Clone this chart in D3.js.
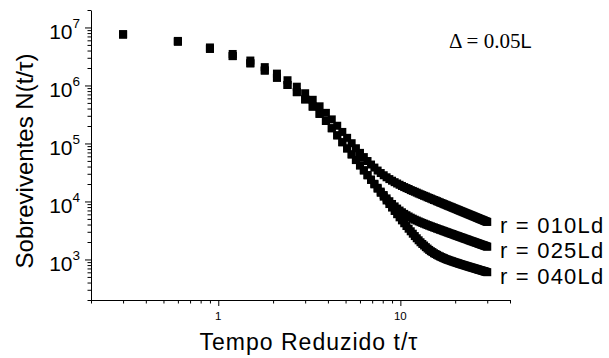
<!DOCTYPE html>
<html>
<head>
<meta charset="utf-8">
<script src="https://cdn.jsdelivr.net/npm/d3@7"></script>
<style>
  body { margin: 0; background: #fff; }
  text { font-family: "Liberation Sans", Arial, sans-serif; fill: #000; }
</style>
</head>
<body>
<svg id="chart" width="609" height="358"></svg>
<script>
// reduced time t/tau
const tValues = [
  0.3, 0.6, 0.9, 1.2, 1.5, 1.8, 2.1, 2.4, 2.7, 3.0,
  3.3, 3.6, 3.9, 4.2, 4.5, 4.8, 5.1, 5.4, 5.7, 6.0,
  6.3, 6.6, 6.9, 7.2, 7.5, 7.8, 8.1, 8.4, 8.7, 9.0,
  9.3, 9.6, 9.9, 10.2, 10.5, 10.8, 11.1, 11.4, 11.7, 12.0,
  12.3, 12.6, 12.9, 13.2, 13.5, 13.8, 14.1, 14.4, 14.7, 15.0,
  15.3, 15.6, 15.9, 16.2, 16.5, 16.8, 17.1, 17.4, 17.7, 18.0,
  18.3, 18.6, 18.9, 19.2, 19.5, 19.8, 20.1, 20.4, 20.7, 21.0,
  21.3, 21.6, 21.9, 22.2, 22.5, 22.8, 23.1, 23.4, 23.7, 24.0,
  24.3, 24.6, 24.9, 25.2, 25.5, 25.8, 26.1, 26.4, 26.7, 27.0,
  27.3, 27.6, 27.9, 28.2, 28.5, 28.8, 29.1, 29.4, 29.7, 30.0
];

// survivors N(t/tau), r = 010Ld
const n010 = [
  7.59e6, 5.86e6, 4.52e6, 3.49e6, 2.69e6, 2.07e6, 1.60e6, 1.23e6, 9.52e5, 7.34e5,
  5.66e5, 4.37e5, 3.37e5, 2.60e5, 2.02e5, 1.58e5, 1.25e5, 1.01e5, 8.27e4, 6.88e4,
  5.82e4, 4.98e4, 4.33e4, 3.84e4, 3.41e4, 3.09e4, 2.83e4, 2.61e4, 2.43e4, 2.28e4,
  2.15e4, 2.04e4, 1.94e4, 1.85e4, 1.77e4, 1.70e4, 1.64e4, 1.57e4, 1.52e4, 1.47e4,
  1.42e4, 1.37e4, 1.33e4, 1.29e4, 1.25e4, 1.22e4, 1.18e4, 1.15e4, 1.12e4, 1.09e4,
  1.06e4, 1.04e4, 1.01e4, 9.86e3, 9.62e3, 9.40e3, 9.19e3, 8.98e3, 8.78e3, 8.59e3,
  8.41e3, 8.24e3, 8.07e3, 7.91e3, 7.75e3, 7.60e3, 7.45e3, 7.31e3, 7.17e3, 7.04e3,
  6.91e3, 6.79e3, 6.67e3, 6.55e3, 6.44e3, 6.33e3, 6.22e3, 6.12e3, 6.02e3, 5.92e3,
  5.83e3, 5.74e3, 5.65e3, 5.56e3, 5.48e3, 5.39e3, 5.31e3, 5.23e3, 5.16e3, 5.08e3,
  5.01e3, 4.94e3, 4.87e3, 4.81e3, 4.74e3, 4.68e3, 4.61e3, 4.55e3, 4.49e3, 4.44e3
];

// survivors N(t/tau), r = 025Ld
const n025 = [
  7.59e6, 5.70e6, 4.28e6, 3.21e6, 2.41e6, 1.81e6, 1.36e6, 1.02e6, 7.67e5, 5.75e5,
  4.32e5, 3.24e5, 2.44e5, 1.83e5, 1.38e5, 1.05e5, 8.21e4, 6.48e4, 5.19e4, 4.20e4,
  3.45e4, 2.85e4, 2.39e4, 2.02e4, 1.72e4, 1.48e4, 1.29e4, 1.13e4, 1.01e4, 9.05e3,
  8.22e3, 7.54e3, 6.97e3, 6.51e3, 6.11e3, 5.79e3, 5.51e3, 5.26e3, 5.05e3, 4.85e3,
  4.69e3, 4.53e3, 4.39e3, 4.26e3, 4.14e3, 4.03e3, 3.92e3, 3.82e3, 3.73e3, 3.64e3,
  3.56e3, 3.48e3, 3.40e3, 3.33e3, 3.26e3, 3.20e3, 3.13e3, 3.07e3, 3.01e3, 2.95e3,
  2.90e3, 2.84e3, 2.79e3, 2.75e3, 2.70e3, 2.65e3, 2.60e3, 2.56e3, 2.52e3, 2.48e3,
  2.44e3, 2.40e3, 2.37e3, 2.33e3, 2.29e3, 2.26e3, 2.23e3, 2.20e3, 2.16e3, 2.13e3,
  2.10e3, 2.07e3, 2.05e3, 2.02e3, 1.99e3, 1.97e3, 1.94e3, 1.92e3, 1.89e3, 1.87e3,
  1.85e3, 1.82e3, 1.80e3, 1.78e3, 1.76e3, 1.74e3, 1.72e3, 1.70e3, 1.68e3, 1.66e3
];

// survivors N(t/tau), r = 040Ld
const n040 = [
  7.59e6, 5.70e6, 4.28e6, 3.21e6, 2.41e6, 1.81e6, 1.36e6, 1.02e6, 7.67e5, 5.75e5,
  4.32e5, 3.24e5, 2.44e5, 1.83e5, 1.38e5, 1.05e5, 8.20e4, 6.47e4, 5.17e4, 4.18e4,
  3.42e4, 2.82e4, 2.35e4, 1.97e4, 1.66e4, 1.41e4, 1.21e4, 1.04e4, 9.02e3, 7.85e3,
  6.86e3, 6.03e3, 5.32e3, 4.72e3, 4.21e3, 3.77e3, 3.39e3, 3.06e3, 2.78e3, 2.53e3,
  2.32e3, 2.14e3, 1.98e3, 1.85e3, 1.74e3, 1.63e3, 1.54e3, 1.46e3, 1.39e3, 1.34e3,
  1.28e3, 1.24e3, 1.20e3, 1.16e3, 1.13e3, 1.10e3, 1.07e3, 1.05e3, 1.02e3, 1.00e3,
  983, 965, 947, 932, 916, 901, 887, 874, 861, 848,
  836, 824, 813, 803, 792, 782, 772, 762, 753, 744,
  735, 727, 719, 711, 703, 695, 687, 680, 672, 665,
  658, 652, 645, 639, 632, 626, 620, 614, 608, 603
];

const seriesLabels = ['r = 010Ld', 'r = 025Ld', 'r = 040Ld'];
const xMajorTicks = [1, 10];
const xMinorTicks = [0.2, 0.3, 0.4, 0.5, 0.6, 0.7, 0.8, 0.9, 2, 3, 4, 5, 6, 7, 8, 9, 20, 30, 40];
const yDecades = [3, 4, 5, 6, 7];

const svg = d3.select('#chart');
const margin = { left: 91, right: 99, top: 10, bottom: 58 };
const x = d3.scaleLog().domain([0.2, 40]).range([margin.left, 609 - margin.right]);
const y = d3.scaleLog().domain([200, 2e7]).range([358 - margin.bottom, margin.top]);

// minor ticks on y: 2..9 x 10^k inside the domain
const yMinorTicks = [];
for (let k = 2; k <= 7; k++) {
  for (let m = 2; m <= 9; m++) {
    const v = m * Math.pow(10, k);
    if (v >= 200 && v <= 2e7) yMinorTicks.push(v);
  }
}

// axes -------------------------------------------------
const gx = svg.append('g').attr('transform', 'translate(0,' + y.range()[0] + ')');
gx.call(d3.axisBottom(x).tickValues(xMinorTicks).tickSize(3.5).tickSizeOuter(0).tickFormat(''));
gx.append('g').call(d3.axisBottom(x).tickValues(xMajorTicks).tickSize(6).tickFormat('')).select('.domain').remove();
gx.selectAll('path, line').attr('stroke', '#000');

gx.selectAll('text.xlab')
  .data(xMajorTicks)
  .join('text')
  .attr('class', 'xlab')
  .attr('x', d => x(d))
  .attr('y', 20)
  .attr('text-anchor', 'middle')
  .style('font-size', '11.5px')
  .text(d => d);

const gy = svg.append('g').attr('transform', 'translate(' + x.range()[0] + ',0)');
gy.call(d3.axisLeft(y).tickValues(yMinorTicks).tickSize(3.5).tickSizeOuter(0).tickFormat(''));
gy.append('g').call(d3.axisLeft(y).tickValues(yDecades.map(k => Math.pow(10, k))).tickSize(6).tickFormat('')).select('.domain').remove();
gy.selectAll('path, line').attr('stroke', '#000');

const ylab = gy.selectAll('text.ylab')
  .data(yDecades)
  .join('text')
  .attr('class', 'ylab')
  .attr('x', -11)
  .attr('y', d => y(Math.pow(10, d)) + 12)
  .attr('text-anchor', 'end')
  .style('font-size', '21px');
ylab.append('tspan').text('10');
ylab.append('tspan').attr('dy', -11.5).style('font-size', '13.5px').text(d => d);

// data -------------------------------------------------
const series = [n040, n025, n010];
series.forEach(vals => {
  svg.append('g')
    .selectAll('rect')
    .data(tValues.map((t, i) => [t, vals[i]]))
    .join('rect')
    .attr('x', d => x(d[0]) - 4)
    .attr('y', d => y(d[1]) - 4)
    .attr('width', 8)
    .attr('height', 8)
    .attr('fill', '#000');
});

// labels -----------------------------------------------
svg.selectAll('text.rlab')
  .data(seriesLabels)
  .join('text')
  .attr('class', 'rlab')
  .attr('x', 500)
  .attr('y', (d, i) => 232.7 + i * 25.6)
  .style('font-size', '22px')
  .style('letter-spacing', '1.2px')
  .text(d => d);

svg.append('text')
  .attr('x', 309)
  .attr('y', 350)
  .attr('text-anchor', 'middle')
  .style('font-size', '23px')
  .style('letter-spacing', '1px')
  .text('Tempo Reduzido t/τ');

svg.append('text')
  .attr('transform', 'translate(33,161) rotate(-90)')
  .attr('text-anchor', 'middle')
  .style('font-size', '24px')
  .text('Sobreviventes N(t/τ)');

const delta = svg.append('text').attr('x', 449).attr('y', 47.7);
delta.append('tspan').style('font-family', '"Liberation Serif", "Times New Roman", serif').style('font-size', '21px').text('Δ = 0.05');
delta.append('tspan').style('font-size', '20px').text('L');
</script>
</body>
</html>
